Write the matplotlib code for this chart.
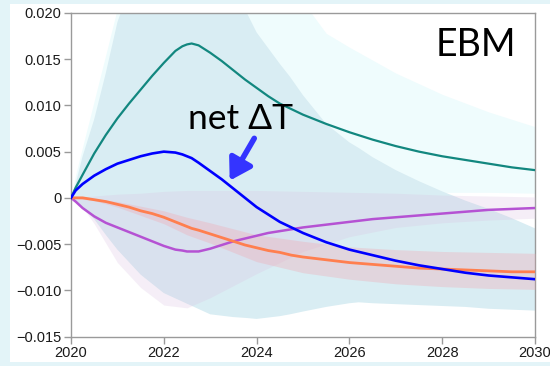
"""EBM response to a 2020 forcing step: component temperature changes with spread."""

import matplotlib.pyplot as plt
from matplotlib.patches import Rectangle
from matplotlib.ticker import FuncFormatter

# ---- central estimates (K) ----
YEARS = [2020, 2020.1, 2020.25, 2020.5, 2020.75, 2021, 2021.25, 2021.5, 2021.75,
         2022, 2022.25, 2022.4, 2022.5, 2022.6, 2022.75, 2023, 2023.25, 2023.5,
         2023.75, 2024, 2024.25, 2024.5, 2024.75, 2025, 2025.5, 2026, 2026.5,
         2027, 2027.5, 2028, 2028.5, 2029, 2029.5, 2030]
teal = [0, 0.0011, 0.0025, 0.0048, 0.0068, 0.0086, 0.0102, 0.0117, 0.0132,
        0.0146, 0.0159, 0.0164, 0.0166, 0.0167, 0.0165, 0.0157, 0.0148, 0.0138,
        0.0128, 0.0119, 0.0110, 0.0102, 0.0096, 0.0090, 0.0080, 0.0071, 0.0063,
        0.0056, 0.0050, 0.0045, 0.0041, 0.0037, 0.0033, 0.0030]
net = [0, 0.0008, 0.0015, 0.0024, 0.0031, 0.0037, 0.0041, 0.0045, 0.0048,
       0.0050, 0.0049, 0.0047, 0.0045, 0.0043, 0.0038, 0.0029, 0.0020, 0.0010,
       0.0000, -0.0010, -0.0018, -0.0026, -0.0032, -0.0038, -0.0048, -0.0056,
       -0.0062, -0.0068, -0.0073, -0.0077, -0.0081, -0.0084, -0.0086, -0.0088]
orange = [0, 0, 0, -0.0002, -0.0004, -0.0007, -0.0010, -0.0014, -0.0017,
          -0.0021, -0.0026, -0.0029, -0.0031, -0.0033, -0.0035, -0.0039,
          -0.0043, -0.0047, -0.0051, -0.0054, -0.0057, -0.0059, -0.0062,
          -0.0064, -0.0067, -0.0070, -0.0072, -0.0074, -0.0076, -0.0077,
          -0.0078, -0.0079, -0.0080, -0.0080]
purple = [0, -0.0004, -0.0011, -0.0020, -0.0027, -0.0032, -0.0037, -0.0042,
          -0.0047, -0.0052, -0.0056, -0.0057, -0.0058, -0.0058, -0.0058,
          -0.0055, -0.0051, -0.0047, -0.0044, -0.0041, -0.0038, -0.0036,
          -0.0034, -0.0032, -0.0029, -0.0026, -0.0023, -0.0021, -0.0019,
          -0.0017, -0.0015, -0.0013, -0.0012, -0.0011]

# ---- uncertainty ranges ----
teal_band_x = [2020, 2020.1, 2020.25, 2020.5, 2020.75, 2021, 2021.5, 2022,
               2023, 2024, 2025, 2025.5, 2026, 2026.5, 2027, 2028, 2029, 2030]
teal_band_hi = [0, 0.0025, 0.0055, 0.0105, 0.0155, 0.0205, 0.027, 0.030,
                0.029, 0.026, 0.0212, 0.0178, 0.0163, 0.0149, 0.0135, 0.0112,
                0.0093, 0.0077]
teal_band_lo = [0, 0.0001, 0.0001, 0.0002, 0.0003, 0.0003, 0.0005, 0.0008,
                0.0010, 0.0010, 0.0009, 0.0009, 0.0008, 0.0008, 0.0007, 0.0006,
                0.0006, 0.0005]

net_band_x = [2020, 2020.1, 2020.25, 2020.5, 2020.75, 2021, 2021.5, 2022,
              2023, 2023.5, 2023.79, 2024, 2024.5, 2024.72, 2025, 2025.5, 2026,
              2026.2, 2026.5, 2027, 2027.5, 2028, 2028.5, 2029, 2029.5, 2030]
net_band_hi = [0, 0.0015, 0.0045, 0.0085, 0.0135, 0.0190, 0.026, 0.030,
               0.027, 0.0235, 0.0200, 0.0179, 0.0145, 0.0131, 0.0111, 0.0080,
               0.0060, 0.0054, 0.0044, 0.0030, 0.0018, 0.0007, -0.0003,
               -0.0012, -0.0022, -0.0033]
net_band_lo = [0, -0.0004, -0.0010, -0.0023, -0.0040, -0.0056, -0.0083,
               -0.0103, -0.0126, -0.0129, -0.0130, -0.0131, -0.0128, -0.0126,
               -0.0123, -0.0118, -0.0114, -0.0113, -0.0114, -0.0115, -0.0116,
               -0.0117, -0.0118, -0.0120, -0.0121, -0.0122]

purple_band_x = [2020, 2020.25, 2020.5, 2021, 2021.5, 2022, 2022.5, 2023,
                 2023.5, 2024, 2025, 2026, 2027, 2028, 2029, 2030]
purple_band_hi = [0, 0.0001, 0.0002, 0.0004, 0.0005, 0.0007, 0.0008, 0.0008,
                  0.0008, 0.0008, 0.0007, 0.0006, 0.0005, 0.0003, 0.0002, 0.0001]
purple_band_lo = [0, -0.0010, -0.0028, -0.0070, -0.0097, -0.0116, -0.0119,
                  -0.0108, -0.0095, -0.0082, -0.0058, -0.0042, -0.0032,
                  -0.0027, -0.0024, -0.0022]

orange_band_x = [2020, 2020.5, 2021, 2021.5, 2022, 2022.5, 2023, 2024, 2025,
                 2026, 2027, 2028, 2029, 2030]
orange_band_hi = [0, -0.0001, -0.0004, -0.0009, -0.0014, -0.0021, -0.0027,
                  -0.0040, -0.0047, -0.0053, -0.0056, -0.0058, -0.0059, -0.0060]
orange_band_lo = [0, -0.0003, -0.0010, -0.0019, -0.0028, -0.0040, -0.0049,
                  -0.0069, -0.0081, -0.0088, -0.0093, -0.0096, -0.0098, -0.0099]

X_TICKS = [2020, 2022, 2024, 2026, 2028, 2030]
Y_TICKS = [-0.015, -0.010, -0.005, 0, 0.005, 0.010, 0.015, 0.020]

plt.rcParams["font.family"] = ["Liberation Sans", "DejaVu Sans"]

fig = plt.figure(figsize=(5.5, 3.66), dpi=100, facecolor="#e3f4f8")
# white slide area behind the plot
fig.patches.append(Rectangle((10 / 550, 4 / 366), 540 / 550, 358 / 366,
                             transform=fig.transFigure, facecolor="white",
                             edgecolor="none", zorder=-10))
ax = fig.add_axes([71 / 550, 29.5 / 366, 464 / 550, 323.5 / 366])
ax.set_facecolor("white")

ax.fill_between(teal_band_x, teal_band_lo, teal_band_hi, color="#effcfd", lw=0, zorder=1)
ax.fill_between(net_band_x, net_band_lo, net_band_hi, color="#d9edf3", lw=0, zorder=2)
ax.fill_between(purple_band_x, purple_band_lo, purple_band_hi, color="#d9bee0",
                alpha=0.25, lw=0, zorder=3)
ax.fill_between(orange_band_x, orange_band_lo, orange_band_hi, color="#f0aab4",
                alpha=0.35, lw=0, zorder=4)

ax.plot(YEARS, purple, color="#b552d3", lw=1.8, zorder=5)
ax.plot(YEARS, orange, color="#ff7f4f", lw=2.0, zorder=6)
ax.plot(YEARS, teal, color="#12877f", lw=1.6, zorder=7)
ax.plot(YEARS, net, color="#0000ff", lw=1.9, zorder=8)

ax.annotate("", xy=(2023.39, 0.0016), xytext=(2023.98, 0.0067),
            arrowprops=dict(arrowstyle="-|>,head_length=0.9,head_width=0.55",
                            color="#3434ff", lw=4, mutation_scale=14),
            zorder=9)
ax.text(2022.52, 0.0074, "net \u0394T", fontsize=25.5,
        family=["Lato", "DejaVu Sans"], color="black", zorder=10)
ax.text(2029.59, 0.0154, "EBM", fontsize=27, ha="right", va="baseline",
        family=["Lato", "DejaVu Sans"], color="black", zorder=10)

ax.set_xlim(2020, 2030)
ax.set_ylim(-0.015, 0.020)
ax.set_xticks(X_TICKS)
ax.set_yticks(Y_TICKS)
ax.yaxis.set_major_formatter(FuncFormatter(
    lambda v, _: "0" if abs(v) < 1e-9 else f"{v:.3f}".replace("-", "\u2212")))
for side in ["left", "right", "top", "bottom"]:
    ax.spines[side].set_color("#9a9a9a")
    ax.spines[side].set_linewidth(1.0)
ax.tick_params(direction="out", length=5, width=1, color="#9a9a9a",
               labelsize=10.5, labelcolor="#1a1a1a", pad=2)

fig.savefig("out.png", dpi=100, facecolor=fig.get_facecolor())
